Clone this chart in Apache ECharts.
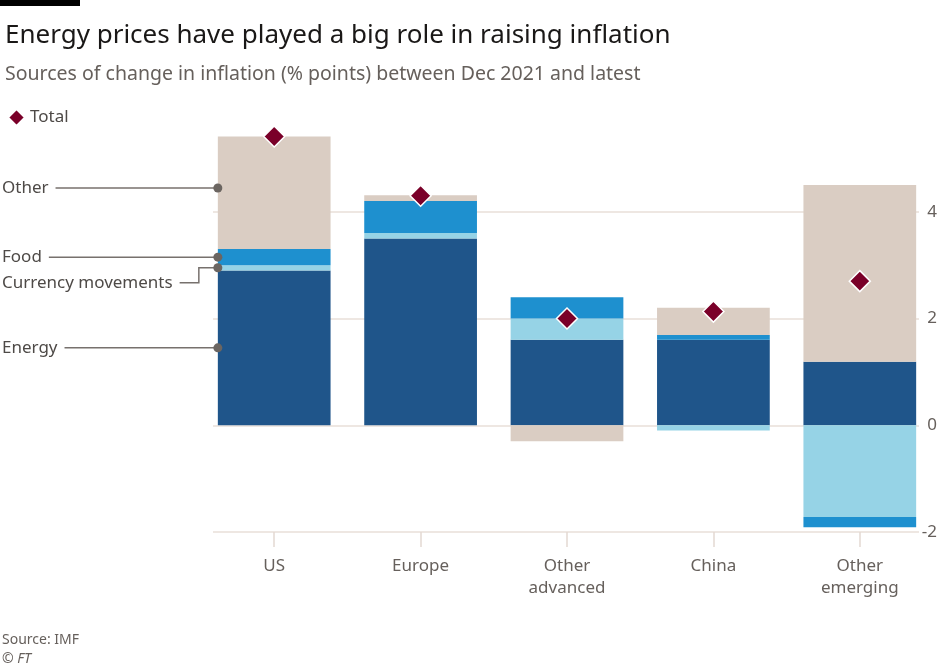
<!DOCTYPE html>
<html>
<head>
<meta charset="utf-8">
<script src="https://cdn.jsdelivr.net/npm/echarts@6/dist/echarts.min.js"></script>
<style>
	html, body { margin: 0; padding: 0; background: #fff; }
	#chart { width: 940px; height: 671px; }
</style>
</head>
<body>
<div id="chart"></div>
<script>
// 지역별 인플레이션 변화 요인 (%p)
const regions = ['US', 'Europe', 'Other\nadvanced', 'China', 'Other\nemerging'];
const energy = [2.90, 3.50, 1.60, 1.60, 1.19];
const currency = [0.10, 0.10, 0.40, -0.10, -1.72];
const food = [0.30, 0.60, 0.40, 0.09, -0.19];
const other = [2.11, 0.11, -0.30, 0.51, 3.31];
const total = [5.41, 4.30, 2.00, 2.13, 2.70];
const yTicks = [-2, 0, 2, 4];

const FONT = '"Noto Sans", sans-serif';
const GRAY = '#66605c';

const chart = echarts.init(document.getElementById('chart'));

function barSeries(name, data, color) {
	return {
		name: name,
		type: 'bar',
		stack: 'src',
		data: data,
		barWidth: '77%',
		itemStyle: { color: color },
		emphasis: { disabled: true }
	};
}

const option = {
	animation: false,
	textStyle: { fontFamily: FONT },
	title: {
		text: 'Energy prices have played a big role in raising inflation',
		subtext: 'Sources of change in inflation (% points) between Dec 2021 and latest',
		left: 0,
		top: 18,
		itemGap: 15,
		textStyle: { fontSize: 26, fontWeight: 'normal', color: '#1a1817' },
		subtextStyle: { fontSize: 19.5, color: GRAY }
	},
	legend: {
		data: ['Total'],
		left: 2,
		top: 103,
		itemWidth: 17,
		itemHeight: 17,
		textStyle: { fontSize: 17, color: '#4e4a47' }
	},
	grid: [
		{ left: 201, right: 7, top: 131.7, bottom: 139 },
		{ left: 213, right: 20, top: 131.7, bottom: 139 }
	],
	xAxis: [
		{
			type: 'category',
			gridIndex: 0,
			data: regions,
			axisLine: { show: false, onZero: false },
			axisTick: { show: true, alignWithLabel: true, length: 15, lineStyle: { color: '#e3d9d2', width: 1.5 } },
			axisLabel: { margin: 23, fontSize: 17, color: GRAY, lineHeight: 22 }
		},
		{ type: 'value', gridIndex: 1, show: false, min: 0, max: 1 }
	],
	yAxis: [
		{ type: 'value', gridIndex: 0, min: -2, max: 5.5, show: false },
		{
			type: 'value',
			gridIndex: 1,
			position: 'right',
			min: -2,
			max: 5.5,
			interval: 2,
			axisLine: { show: false },
			axisTick: { show: false },
			axisLabel: {
				align: 'right',
				margin: 18,
				fontSize: 17,
				color: GRAY,
				showMaxLabel: false,
				formatter: v => yTicks.includes(v) ? String(v) : ''
			},
			splitLine: { showMaxLine: false, lineStyle: { color: '#e8dfd8', width: 1.5 } }
		}
	],
	series: [
		barSeries('Energy', energy, '#1f558a'),
		barSeries('Currency movements', currency, '#96d3e6'),
		barSeries('Food', food, '#1e90cf'),
		barSeries('Other', other, '#dacdc3'),
		{
			name: 'Total',
			type: 'scatter',
			data: total,
			symbol: 'diamond',
			symbolSize: 21,
			z: 5,
			itemStyle: { color: '#7a0029', borderColor: '#fff', borderWidth: 1.5, opacity: 1 },
			emphasis: { disabled: true }
		}
	],
	graphic: []
};

chart.setOption(option);

// 미국 막대 왼쪽 가장자리에 붙는 범례 주석
function measure(text) {
	const ctx = document.createElement('canvas').getContext('2d');
	ctx.font = '17px ' + FONT;
	return ctx.measureText(text).width;
}

const c0 = chart.convertToPixel({ xAxisIndex: 0, yAxisIndex: 0 }, [0, 0]);
const c1 = chart.convertToPixel({ xAxisIndex: 0, yAxisIndex: 0 }, [1, 0]);
const barLeft = c0[0] - (c1[0] - c0[0]) * 0.77 / 2;
const yPix = v => chart.convertToPixel({ yAxisIndex: 0 }, v);

const usE = energy[0], usC = currency[0], usF = food[0], usO = other[0];
const notes = [
	{ text: 'Other', v: usE + usC + usF + usO / 2 + 0.09, dy: 0 },
	{ text: 'Food', v: usE + usC + usF / 2, dy: 0 },
	{ text: 'Currency movements', v: usE + usC / 2, dy: 15 },
	{ text: 'Energy', v: usE / 2, dy: 0 }
];

const lineStyle = { stroke: '#77716d', lineWidth: 1.5 };
const graphics = [
	{ type: 'rect', shape: { x: 0, y: 0, width: 80, height: 6 }, style: { fill: '#000' } },
	{ type: 'text', left: 2, top: 633, style: { text: 'Source: IMF', font: '14px ' + FONT, fill: GRAY } },
	{ type: 'text', left: 2, top: 652, style: { text: '© FT', font: 'italic 14px ' + FONT, fill: GRAY } }
];

notes.forEach(n => {
	const y = yPix(n.v);
	const ty = y + n.dy;
	const x0 = 2 + measure(n.text) + 7;
	graphics.push({
		type: 'text', x: 2, y: ty,
		style: { text: n.text, font: '17px ' + FONT, fill: '#4e4a47', verticalAlign: 'middle' }
	});
	if (n.dy) {
		const xm = barLeft - 19;
		graphics.push({
			type: 'polyline',
			shape: { points: [[x0, ty], [xm, ty], [xm, y], [barLeft, y]] },
			style: lineStyle
		});
	} else {
		graphics.push({ type: 'line', shape: { x1: x0, y1: y, x2: barLeft, y2: y }, style: lineStyle });
	}
	graphics.push({ type: 'circle', shape: { cx: barLeft, cy: y, r: 4.5 }, style: { fill: '#6b6561' }, z: 10 });
});

chart.setOption({ graphic: graphics });
</script>
</body>
</html>
